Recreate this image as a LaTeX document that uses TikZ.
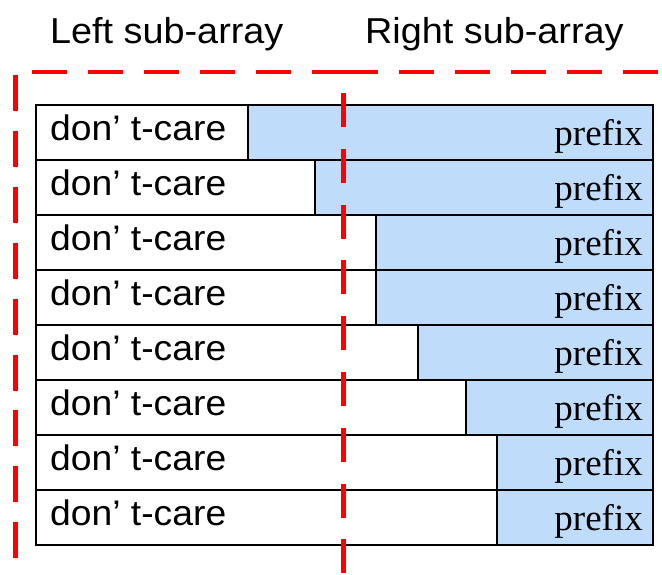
\documentclass[tikz,border=0pt]{standalone}
\usepackage{fontspec}
\newfontfamily\labelsans[FakeStretch=1.05]{Liberation Sans}
\newfontfamily\labelserif{Liberation Serif}
\definecolor{prefixblue}{RGB}{191,220,250}
\definecolor{boundred}{RGB}{255,0,0}
\begin{document}
\begin{tikzpicture}[x=1pt,y=-1pt,
  header/.style={inner sep=0pt,anchor=base west,font=\labelsans\fontsize{36}{40}\selectfont},
  caretext/.style={inner sep=0pt,anchor=base west,font=\labelsans\fontsize{35.5}{40}\selectfont},
  prefixtext/.style={inner sep=0pt,anchor=base east,font=\labelserif\fontsize{37}{40}\selectfont},
  rowbox/.style={draw=black,line width=2pt},
  prefixbox/.style={fill=prefixblue,draw=black,line width=2pt},
  boundary/.style={draw=boundred,line width=4.5pt}]
\useasboundingbox (0,0) rectangle (662,574);

% column headings
\node[header] (lefthead) at (50,43) {Left sub-array};
\node[header] (righthead) at (365,43) {Right sub-array};

% entries: white don't-care part, blue prefix part
\foreach \bx [count=\i] in {248,315,376,376,418,466,497,497}{
  \pgfmathsetmacro{\top}{105+55*(\i-1)}
  \fill[white] (36,\top) rectangle (\bx,\top+55);
  \draw[prefixbox] (\bx,\top) rectangle (653,\top+55);
  \draw[rowbox] (36,\top) rectangle (653,\top+55);
  \node[caretext] (care\i) at (50,\top+35) {don’ t-care};
  \node[prefixtext] (prefix\i) at (643,\top+40) {prefix};
}

% sub-array boundaries
\coordinate (tl) at (32,72);
\coordinate (tm) at (343,72);
\coordinate (tr) at (662,72);
\coordinate (lt) at (15.7,75);
\coordinate (lb) at (15.7,574);
\coordinate (mt) at (343.5,93);
\coordinate (mb) at (343.5,574);
\draw[boundary,dash pattern=on 35pt off 21pt] (tl) -- (tm);
\draw[boundary,dash pattern=on 35pt off 21pt] (tm) -- (tr);
\draw[boundary,dash pattern=on 36pt off 19.9pt] (lt) -- (lb);
\draw[boundary,dash pattern=on 34pt off 21.8pt] (mt) -- (mb);
\end{tikzpicture}
\end{document}
